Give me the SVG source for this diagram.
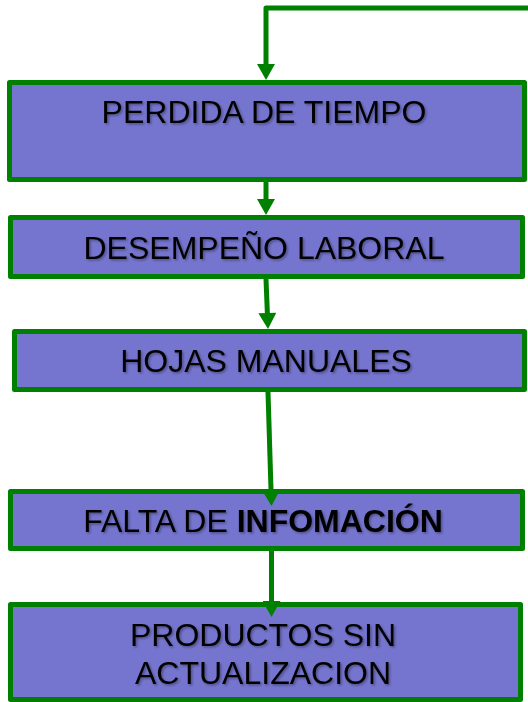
<svg xmlns="http://www.w3.org/2000/svg" width="528" height="702" viewBox="0 0 528 702">
<style>
.box{fill:#7575CF;stroke:#008000;stroke-width:5;stroke-linejoin:round}
.lbl{font-family:"Liberation Sans",Arial,sans-serif;font-size:32px;fill:#000;text-anchor:middle;filter:url(#sh)}
.con{fill:none;stroke:#008000;stroke-width:5;stroke-linejoin:round;marker-end:url(#ah)}
</style>
<defs>
<filter id="sh" x="-10%" y="-30%" width="120%" height="160%">
<feDropShadow dx="1.5" dy="1.5" stdDeviation="0.8" flood-color="#000" flood-opacity="0.35"/>
</filter>
<marker id="ah" markerUnits="userSpaceOnUse" markerWidth="18" markerHeight="18" viewBox="0 0 16 18" refX="6" refY="9" orient="auto">
<path d="M0,0 L16,9 L0,18 z" fill="#008000"/>
</marker>
</defs>
<g id="n1"><rect class="box" x="9.5" y="82.5" width="515" height="97"/><text class="lbl" x="264" y="123">PERDIDA DE TIEMPO</text></g>
<g id="n2"><rect class="box" x="10.5" y="217.5" width="512" height="59"/><text class="lbl" x="264" y="259">DESEMPEÑO LABORAL</text></g>
<g id="n3"><rect class="box" x="14.5" y="331.5" width="510" height="58"/><text class="lbl" x="266" y="372">HOJAS MANUALES</text></g>
<g id="n4"><rect class="box" x="10.5" y="491.5" width="512" height="57"/><text class="lbl" x="263" y="532">FALTA DE <tspan font-weight="bold">INFOMACIÓN</tspan></text></g>
<g id="n5"><rect class="box" x="10.5" y="604.5" width="510" height="95"/><text class="lbl" x="263" y="646">PRODUCTOS SIN</text><text class="lbl" x="263" y="684">ACTUALIZACION</text></g>
<g id="connectors">
<path class="con" d="M530,8 H266 V70"/>
<path class="con" d="M266,182 V205"/>
<path class="con" d="M266,279 L267.6,319"/>
<path class="con" d="M268,392 L271.2,496"/>
<path class="con" d="M271.5,551 V607"/>
</g>
</svg>
